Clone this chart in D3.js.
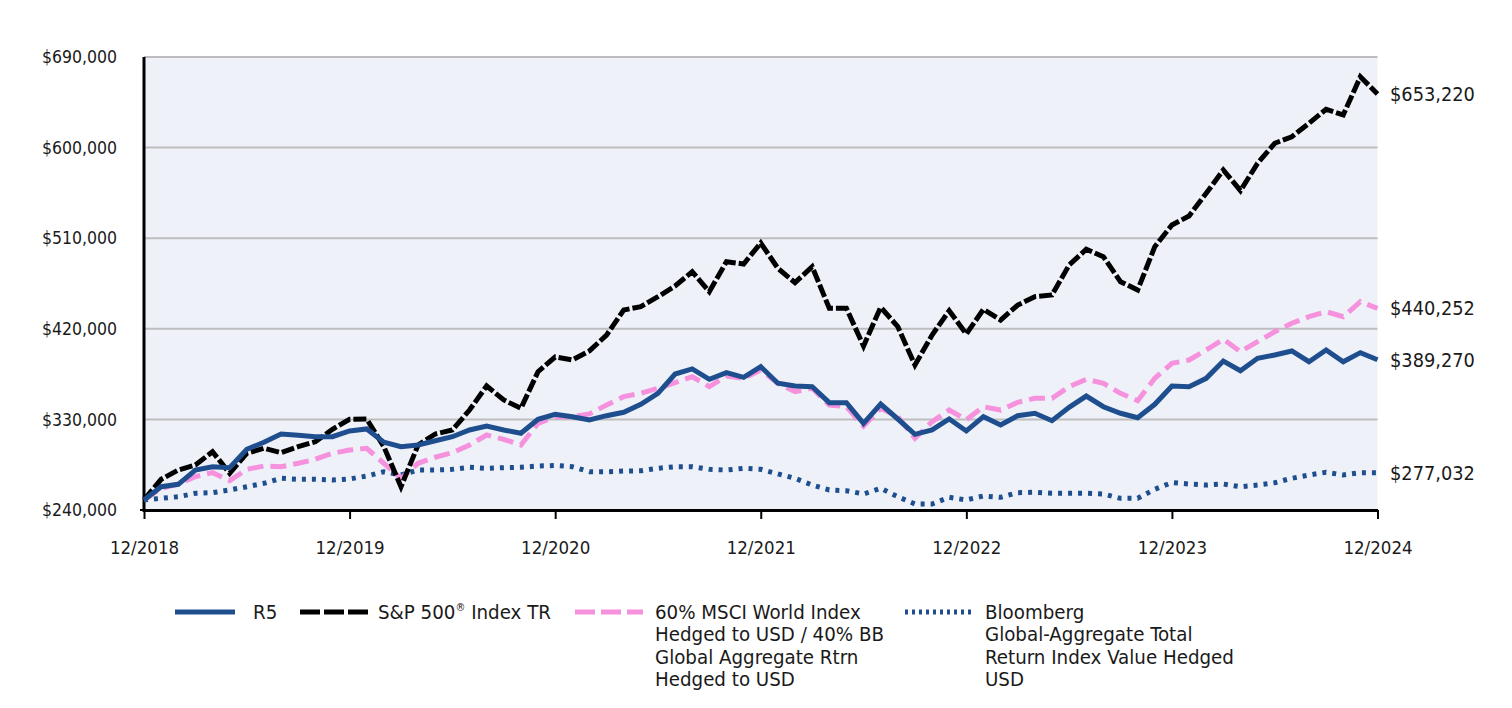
<!DOCTYPE html>
<html>
<head>
<meta charset="utf-8">
<script src="https://cdn.jsdelivr.net/npm/d3@7"></script>
<style>
  html, body { margin: 0; padding: 0; background: #ffffff; }
  svg { display: block; }
  text { font-family: "DejaVu Sans Condensed", "DejaVu Sans", sans-serif; fill: #1a1a1a; }
</style>
</head>
<body>
<svg id="chart" width="1512" height="708"></svg>
<script>
// ---- data ----
const xTickLabels = ["12/2018", "12/2019", "12/2020", "12/2021", "12/2022", "12/2023", "12/2024"];
const yTicks = [240000, 330000, 420000, 510000, 600000, 690000];

const r5 = [250000, 263100, 265500, 279700, 283000, 282000, 300300, 307300, 315500, 314200, 312800, 312800,
  318500, 320500, 307300, 302900, 304600, 308800, 312800, 319500, 323400, 319500, 316200, 330100,
  335100, 332700, 329400, 333700, 337100, 345000, 355900, 375100, 380100, 369800, 376400, 371800,
  382400, 365900, 363200, 362500, 346600, 346600, 326100, 345300, 330400, 315200, 319500, 330400,
  318500, 332700, 324400, 333700, 336100, 328700, 342000, 353200, 342600, 336100, 331700, 345000,
  363200, 362500, 370800, 388000, 378400, 390700, 394000, 398000, 387300, 398900, 387300, 396300,
  389270];

const sp500 = [250000, 270500, 279700, 284700, 297900, 276500, 296300, 301300, 296900, 302900, 307800, 320200,
  330100, 330400, 302900, 263100, 304600, 315500, 319500, 339300, 363200, 349300, 341000, 377400,
  392000, 389000, 398000, 413800, 438700, 442000, 451900, 462500, 476700, 456900, 486700, 484400,
  505200, 480100, 465800, 481700, 440400, 440400, 402900, 441400, 422100, 384000, 413800, 438000,
  414800, 439400, 428700, 443600, 451900, 453600, 483400, 499000, 491600, 466800, 458500, 501600,
  523100, 532100, 554600, 577800, 557200, 584400, 604300, 610800, 624100, 638100, 632400, 670400,
  653220];

const blend6040 = [250000, 261600, 265800, 273100, 277100, 269100, 280400, 283700, 283000, 286400, 290400, 296300,
  299600, 301300, 286400, 271500, 286400, 292400, 296900, 304600, 314500, 310200, 304600, 326100,
  332700, 332700, 335400, 344300, 352600, 355900, 360900, 366500, 372400, 362500, 373100, 370800,
  379100, 365900, 357500, 360900, 344300, 342600, 323400, 341000, 332700, 311200, 327700, 339300,
  329700, 342600, 339300, 347000, 351000, 351000, 362500, 369800, 365900, 355900, 348600, 370800,
  385700, 389000, 398900, 409600, 397300, 407200, 417100, 425500, 432000, 437000, 432000, 446900,
  440252];

const bbgAgg = [250000, 251600, 253200, 256600, 257200, 259900, 263100, 266500, 271500, 270500, 270500, 269800,
  270800, 273800, 278000, 274800, 279700, 279700, 280400, 282400, 281400, 282000, 282400, 283700,
  284200, 283000, 278000, 278000, 278700, 279000, 281400, 283000, 283000, 280400, 279700, 281400,
  280400, 275800, 271500, 264800, 259900, 259200, 255900, 261600, 253200, 246000, 246000, 252600,
  250000, 253900, 252600, 257200, 257600, 256600, 256600, 256600, 255900, 251600, 251600, 260600,
  267300, 265800, 264800, 265800, 263100, 264800, 267100, 271500, 274800, 277500, 274800, 277100,
  277032];

const seriesNames = ["R5", "S&P 500® Index TR",
  "60% MSCI World Index Hedged to USD / 40% BB Global Aggregate Rtrn Hedged to USD",
  "Bloomberg Global-Aggregate Total Return Index Value Hedged USD"];
const endLabels = ["$389,270", "$653,220", "$440,252", "$277,032"];

// ---- styles ----
const BLUE = "#1f4e8f", PINK = "#f591dd", BLACK = "#000000";

const svg = d3.select("#chart");
const pLeft = 144, pRight = 1377.5, pTop = 57, pBottom = 510;
const nMonths = r5.length - 1;

const x = d3.scaleLinear().domain([0, nMonths]).range([pLeft, pRight]);
const y = d3.scaleLinear().domain([240000, 690000]).range([pBottom, pTop]);

// plot background
svg.append("rect").attr("x", pLeft).attr("y", pTop)
  .attr("width", pRight - pLeft).attr("height", pBottom - pTop).attr("fill", "#eef2f8");

// gridlines
svg.append("g").selectAll("line").data(yTicks.filter(d => d > 240000)).join("line")
  .attr("x1", pLeft).attr("x2", pRight)
  .attr("y1", d => y(d)).attr("y2", d => y(d))
  .attr("stroke", "#bdbdbf").attr("stroke-width", 2);

// y axis labels
const fmt = d3.format("$,");
svg.append("g").selectAll("text").data(yTicks).join("text")
  .attr("x", 117).attr("y", d => y(d)).attr("dy", "0.35em")
  .attr("text-anchor", "end").attr("font-size", 17.5)
  .text(d => fmt(d));

// x axis (bottom)
const xAxis = d3.axisBottom(x)
  .tickValues(xTickLabels.map((d, i) => i * 12))
  .tickFormat((d, i) => xTickLabels[i])
  .tickSize(9).tickSizeOuter(0).tickPadding(22);
const gx = svg.append("g").attr("transform", `translate(0,${pBottom})`).call(xAxis);
gx.select(".domain").attr("stroke", "#000").attr("stroke-width", 3);
gx.selectAll(".tick line").attr("stroke", "#000").attr("stroke-width", 2);
gx.selectAll(".tick text").attr("font-size", 18.5)
  .attr("font-family", '"DejaVu Sans Condensed", "DejaVu Sans", sans-serif').attr("fill", "#1a1a1a");

// left axis line
svg.append("line").attr("x1", pLeft).attr("x2", pLeft).attr("y1", pTop).attr("y2", pBottom + 2)
  .attr("stroke", "#000").attr("stroke-width", 3);
svg.append("line").attr("x1", pLeft - 4).attr("x2", pLeft).attr("y1", pBottom).attr("y2", pBottom)
  .attr("stroke", "#000").attr("stroke-width", 2);

// lines
const line = d3.line().x((d, i) => x(i)).y(d => y(d));
const defs = [
  { data: bbgAgg, color: BLUE, dash: "4,6", width: 5 },
  { data: blend6040, color: PINK, dash: "16,7", width: 5 },
  { data: sp500, color: BLACK, dash: "13,3", width: 5 },
  { data: r5, color: BLUE, dash: null, width: 5 }
];
svg.append("g").selectAll("path").data(defs).join("path")
  .attr("d", d => line(d.data))
  .attr("fill", "none")
  .attr("stroke", d => d.color)
  .attr("stroke-width", d => d.width)
  .attr("stroke-dasharray", d => d.dash)
  .attr("stroke-linejoin", "miter");

// end labels
const ends = [r5, sp500, blend6040, bbgAgg];
svg.append("g").selectAll("text").data(ends).join("text")
  .attr("x", 1390).attr("y", d => y(d[d.length - 1])).attr("dy", "0.35em")
  .attr("font-size", 19.8)
  .text((d, i) => endLabels[i]);

// legend
const lg = svg.append("g");
const legendItems = [
  { sx: 175, tx: 253, color: BLUE, dash: null, lines: ["R5"] },
  { sx: 300, tx: 378, color: BLACK, dash: "20,4", lines: null },
  { sx: 575, tx: 655, color: PINK, dash: "20,6", lines: ["60% MSCI World Index", "Hedged to USD / 40% BB", "Global Aggregate Rtrn", "Hedged to USD"] },
  { sx: 905, tx: 985, color: BLUE, dash: "3,4", lines: ["Bloomberg", "Global-Aggregate Total", "Return Index Value Hedged", "USD"] }
];
const ly = 612;
const lfs = 20.3;
legendItems.forEach((it, k) => {
  lg.append("line").attr("x1", it.sx).attr("x2", it.sx + (k === 0 ? 60 : 68))
    .attr("y1", ly).attr("y2", ly)
    .attr("stroke", it.color).attr("stroke-width", 5)
    .attr("stroke-dasharray", it.dash);
  const t = lg.append("text").attr("x", it.tx).attr("y", ly + 7).attr("font-size", lfs);
  if (it.lines) {
    it.lines.forEach((s, j) => {
      t.append("tspan").attr("x", it.tx).attr("dy", j === 0 ? 0 : 22.3).text(s);
    });
  } else {
    t.append("tspan").text("S&P 500");
    t.append("tspan").attr("font-size", 11).attr("dy", -8).text("®");
    t.append("tspan").attr("dy", 8).text(" Index TR");
  }
});
</script>
</body>
</html>
